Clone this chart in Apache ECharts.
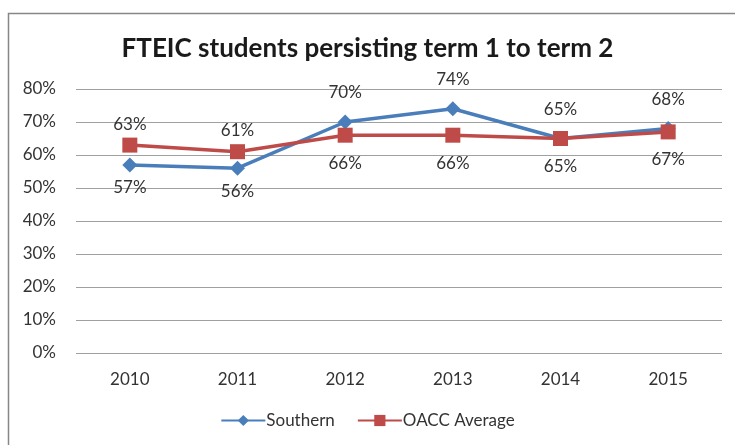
<!DOCTYPE html>
<html>
<head>
<meta charset="utf-8">
<script src="https://cdn.jsdelivr.net/npm/echarts@6/dist/echarts.min.js"></script>
<style>
  html, body { margin: 0; padding: 0; background: #fff; }
  #chart { width: 735px; height: 445px; }
</style>
</head>
<body>
<div id="chart"></div>
<script>
// Persistence of first-time-ever-in-college students, term 1 to term 2
const years = ['2010', '2011', '2012', '2013', '2014', '2015'];
const southern = [0.57, 0.56, 0.70, 0.74, 0.65, 0.68];
const oaccAverage = [0.63, 0.61, 0.66, 0.66, 0.65, 0.67];
const yTicks = [0, 0.1, 0.2, 0.3, 0.4, 0.5, 0.6, 0.7, 0.8];

const FONT = 'Lato, "Open Sans", sans-serif';
const pct = v => Math.round(v * 100) + '%';

// Put each series' value label on the side away from the other line
function withLabels(values, other, upperWhenTied, gapAbove, gapBelow) {
  return values.map((v, i) => {
    const above = upperWhenTied ? v >= other[i] : v > other[i];
    return {
      value: v,
      label: above ? { position: 'top', distance: gapAbove } : { position: 'bottom', distance: gapBelow }
    };
  });
}

const labelBase = {
  show: true,
  formatter: p => pct(p.value),
  color: '#333333',
  fontSize: 17,
  fontFamily: FONT
};

const chart = echarts.init(document.getElementById('chart'));
chart.setOption({
  backgroundColor: '#ffffff',
  animation: false,
  graphic: [{
    type: 'rect',
    shape: { x: 8.5, y: 13.5, width: 760, height: 460 },
    style: { fill: 'none', stroke: '#878787', lineWidth: 1.5 },
    silent: true
  }],
  title: {
    text: 'FTEIC students persisting term 1 to term 2',
    left: 'center',
    top: 31,
    textStyle: { fontSize: 26, fontWeight: 'bold', color: '#1a1a1a', fontFamily: FONT }
  },
  grid: { left: 76, right: 13, top: 89, bottom: 92 },
  legend: {
    bottom: 11,
    left: 'center',
    itemWidth: 44,
    itemHeight: 14,
    itemGap: 22,
    textStyle: { fontSize: 17, color: '#333333', fontFamily: FONT, padding: [0, 0, 0, -4] },
    data: ['Southern', 'OACC Average']
  },
  xAxis: {
    type: 'category',
    data: years,
    boundaryGap: true,
    axisLine: { show: false },
    axisTick: { show: false },
    axisLabel: { color: '#333333', fontSize: 17, margin: 18, fontFamily: FONT }
  },
  yAxis: {
    type: 'value',
    min: yTicks[0],
    max: yTicks[yTicks.length - 1],
    interval: 0.1,
    axisLine: { show: false },
    axisTick: { show: false },
    splitLine: { lineStyle: { color: '#a0a0a0', width: 1 } },
    axisLabel: { color: '#333333', fontSize: 17, margin: 20, formatter: v => pct(v), fontFamily: FONT }
  },
  series: [
    {
      name: 'OACC Average',
      type: 'line',
      data: withLabels(oaccAverage, southern, false, 5, 12),
      symbol: 'rect',
      symbolSize: 15,
      z: 2,
      lineStyle: { color: '#BE4B48', width: 3.5 },
      itemStyle: { color: '#BE4B48' },
      label: labelBase
    },
    {
      name: 'Southern',
      type: 'line',
      data: withLabels(southern, oaccAverage, true, 13, 7),
      symbol: 'diamond',
      symbolSize: 15,
      z: 1,
      lineStyle: { color: '#4A7EBB', width: 3.5 },
      itemStyle: { color: '#4A7EBB' },
      label: labelBase
    }
  ]
});
</script>
</body>
</html>
